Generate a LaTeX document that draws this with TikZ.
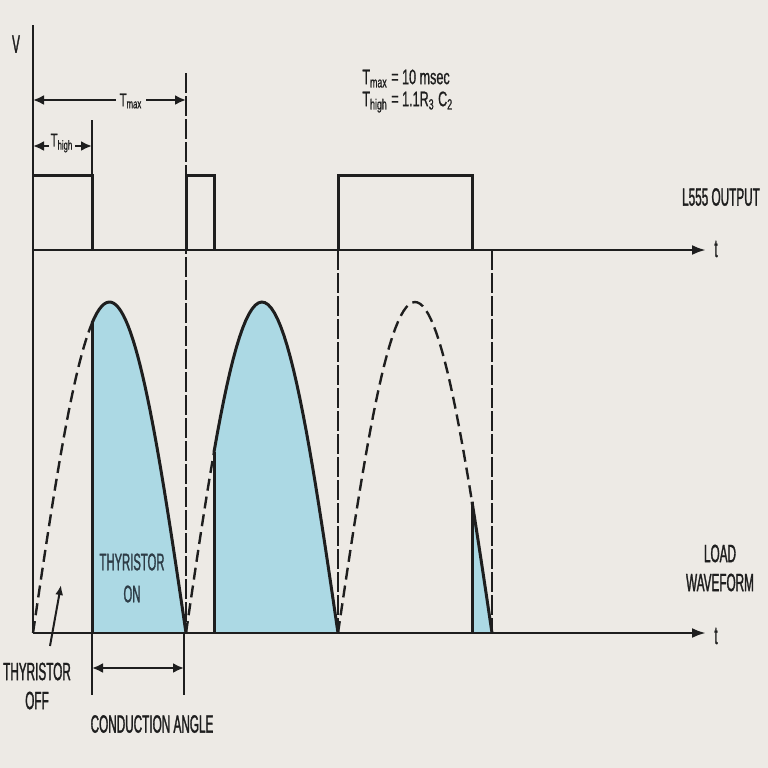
\documentclass[tikz,border=0pt]{standalone}
\usepackage{fontspec}
\setmainfont{Liberation Sans}
\newfontfamily\narrowfont{Liberation Sans}[FakeStretch=0.6,FakeBold=0.8]
\newfontfamily\tightfont{Liberation Sans}[FakeStretch=0.47,FakeBold=1.2]
\usetikzlibrary{arrows.meta}
\definecolor{paper}{RGB}{237,234,229}
\definecolor{loadblue}{RGB}{172,217,228}
\definecolor{ink}{RGB}{30,30,30}
\definecolor{slate}{RGB}{45,60,70}
% height of a half wave starting at #2 with width #3
\newcommand{\archy}[3]{633-331*sin(((#1)-(#2))/(#3)*180)}

\begin{document}
\begin{tikzpicture}[x=0.5pt,y=-0.5pt,
    axis/.style={ink,line width=1.3pt,-{Latex[length=7pt,width=5pt]}},
    wave/.style={ink,line width=1.5pt},
    guide/.style={ink,line width=0.7pt,dash pattern=on 10pt off 1.5pt},
    halfwave/.style={ink,line width=1.2pt,dash pattern=on 6pt off 3pt},
    dim/.style={ink,line width=1.2pt,{Latex[length=5.5pt,width=5pt]}-{Latex[length=5.5pt,width=5pt]}},
    lab/.style={text=ink,font=\narrowfont\fontsize{9.3}{10}\selectfont,align=center,inner sep=0pt},
    biglab/.style={text=ink,font=\tightfont\fontsize{12.5}{14.5}\selectfont,align=center,inner sep=0pt}]
  \fill[paper] (0,0) rectangle (768,768);
  \useasboundingbox (0,0) rectangle (768,768);
  % Shaded conduction parts
  \fill[loadblue] (92,633) -- plot[domain=92:186,samples=40] (\x,{\archy{\x}{33}{153}}) -- cycle;
  \fill[loadblue] (214,633) -- plot[domain=214:338,samples=40] (\x,{\archy{\x}{186}{152}}) -- cycle;
  \fill[loadblue] (472,633) -- plot[domain=472:492,samples=10] (\x,{\archy{\x}{338}{154}}) -- cycle;
  % Guide lines
  \draw[guide] (186,73) -- (186,633);
  \draw[guide] (338,250) -- (338,633);
  \draw[guide] (492,250) -- (492,633);
  \draw[ink,line width=0.7pt] (92,120) -- (92,175);
  % Axes
  \coordinate (origin) at (33,633);
  \coordinate (vtop) at (33,25);
  \coordinate (pzero) at (33,250);
  \coordinate (pend) at (706,250);
  \coordinate (lend) at (706,633);
  \draw[ink,line width=1.3pt] (vtop) -- (origin);
  \draw[axis] (pzero) -- (pend);
  \draw[axis] (origin) -- (lend);
  \node[biglab] (vlabel) at (16,44) {V};
  \node[biglab] (tup) at (716,249) {t};
  \node[biglab] (tdown) at (716,636) {t};
  % L555 output pulses
  \draw[wave] (33,175) -- (92,175) -- (92,250);
  \draw[wave] (186,250) -- (186,175) -- (214,175) -- (214,250);
  \draw[wave] (338,250) -- (338,175) -- (472,175) -- (472,250);
  \node[biglab] (outlab) at (721,197) {L555 OUTPUT};
  % Timing marks
  \coordinate (tmaxa) at (33,100);
  \coordinate (tmaxb) at (186,100);
  \coordinate (thigha) at (33,146);
  \coordinate (thighb) at (92,146);
  \draw[dim] (tmaxa) -- (tmaxb);
  \draw[dim] (thigha) -- (thighb);
  \node[lab,fill=paper,inner xsep=2pt] (tmax) at (131,101) {T\textsubscript{max}};
  \node[lab,fill=paper,inner xsep=1pt] (thigh) at (62,143) {T\textsubscript{high}};
  \node[lab,font=\narrowfont\fontsize{10.5}{11}\selectfont,align=left,anchor=west] (formula) at (362,91)
    {T\textsubscript{max} = 10 msec\\T\textsubscript{high} = 1.1R\textsubscript{3} C\textsubscript{2}};
  % Load waveform
  \draw[halfwave] plot[domain=33:92,samples=30] (\x,{\archy{\x}{33}{153}});
  \draw[wave] plot[domain=92:186,samples=40] (\x,{\archy{\x}{33}{153}});
  \draw[wave] (92,633) -- (92,{\archy{92}{33}{153}});
  \draw[halfwave] plot[domain=186:214,samples=20] (\x,{\archy{\x}{186}{152}});
  \draw[wave] plot[domain=214:338,samples=40] (\x,{\archy{\x}{186}{152}});
  \draw[wave] (214,633) -- (214,{\archy{214}{186}{152}});
  \draw[halfwave] plot[domain=338:472,samples=50] (\x,{\archy{\x}{338}{154}});
  \draw[wave] plot[domain=472:492,samples=10] (\x,{\archy{\x}{338}{154}});
  \draw[wave] (472,633) -- (472,{\archy{472}{338}{154}});
  \node[biglab] (loadlab) at (720,568) {LOAD\\WAVEFORM};
  % Thyristor labels
  \node[biglab,text=slate,font=\tightfont\fontsize{12}{16}\selectfont] (onlab) at (132,578) {THYRISTOR\\ON};
  \node[biglab] (offlab) at (37,686) {THYRISTOR\\OFF};
  \coordinate (offtail) at (50,646);
  \coordinate (offtip) at (61,585);
  \draw[ink,line width=1pt,-{Latex[length=5pt,width=4pt]}] (offtail) -- (offtip);
  % Conduction angle
  \coordinate (anga) at (92,695);
  \coordinate (angb) at (184,695);
  \draw[ink,line width=0.8pt] (92,633) -- (anga);
  \draw[ink,line width=0.8pt] (184,633) -- (angb);
  \draw[dim] (92,668) -- (184,668);
  \node[biglab] (anglab) at (152,724) {CONDUCTION ANGLE};
\end{tikzpicture}
\end{document}
